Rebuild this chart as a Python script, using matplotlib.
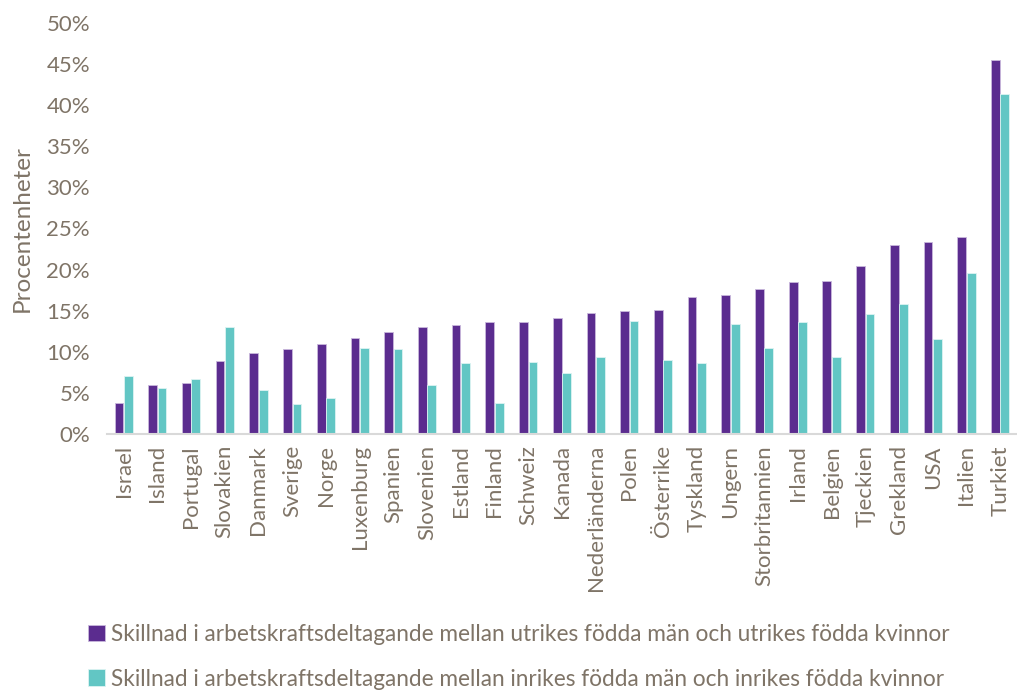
import numpy as np
import matplotlib.pyplot as plt
from matplotlib.ticker import PercentFormatter

plt.rcParams['font.family'] = ['Lato', 'DejaVu Sans']

# Data (percentage points)
countries = ['Israel', 'Island', 'Portugal', 'Slovakien', 'Danmark', 'Sverige', 'Norge',
             'Luxenburg', 'Spanien', 'Slovenien', 'Estland', 'Finland', 'Schweiz', 'Kanada',
             'Nederländerna', 'Polen', 'Österrike', 'Tyskland', 'Ungern', 'Storbritannien',
             'Irland', 'Belgien', 'Tjeckien', 'Grekland', 'USA', 'Italien', 'Turkiet']
utrikes = [3.8, 5.9, 6.2, 8.9, 9.8, 10.3, 10.9, 11.7, 12.4, 13.0, 13.2, 13.6, 13.6, 14.1,
           14.7, 14.9, 15.1, 16.7, 16.9, 17.6, 18.5, 18.6, 20.4, 23.0, 23.3, 23.9, 45.5]
inrikes = [7.0, 5.6, 6.7, 13.0, 5.4, 3.7, 4.4, 10.4, 10.3, 5.9, 8.6, 3.8, 8.7, 7.4,
           9.4, 13.7, 9.0, 8.6, 13.4, 10.4, 13.6, 9.4, 14.6, 15.8, 11.5, 19.6, 41.4]

label_utr = 'Skillnad i arbetskraftsdeltagande mellan utrikes födda män och utrikes födda kvinnor'
label_inr = 'Skillnad i arbetskraftsdeltagande mellan inrikes födda män och inrikes födda kvinnor'

purple = '#5B2C8F'
teal = '#62C6C4'
text_col = '#7F7467'

fig = plt.figure(figsize=(10.17, 6.9), dpi=100)
ax = fig.add_axes([0.105, 0.371, 0.895, 0.596])

x = np.arange(len(countries))
w = 0.26
ax.bar(x - 0.14, utrikes, width=w, color=purple, edgecolor='#C9B8DC', linewidth=0.6, label=label_utr)
ax.bar(x + 0.14, inrikes, width=w, color=teal, edgecolor='#DDF3F2', linewidth=0.6, label=label_inr)

ax.set_xlim(-0.5, len(countries) - 0.5)
ax.set_ylim(0, 50)
ax.set_yticks(np.arange(0, 51, 5))
ax.yaxis.set_major_formatter(PercentFormatter(decimals=0))
ax.set_xticks(x)
ax.set_xticklabels(countries, rotation=90, fontsize=16, color=text_col)
ax.tick_params(axis='y', labelsize=16, labelcolor=text_col, length=0, pad=12)
ax.tick_params(axis='x', length=0, pad=8)

for s in ['top', 'right', 'left']:
    ax.spines[s].set_visible(False)
ax.spines['bottom'].set_color('#D9D9D9')
ax.spines['bottom'].set_linewidth(1.5)

ax.set_ylabel('Procentenheter', fontsize=17.5, color=text_col, labelpad=10)

fig.legend(loc='upper left', bbox_to_anchor=(0.078, 0.109), frameon=False,
           fontsize=16.3, labelcolor=text_col, handlelength=0.75, handleheight=0.75,
           handletextpad=0.25, labelspacing=1.05, borderaxespad=0)

fig.savefig('out.png', dpi=100)
